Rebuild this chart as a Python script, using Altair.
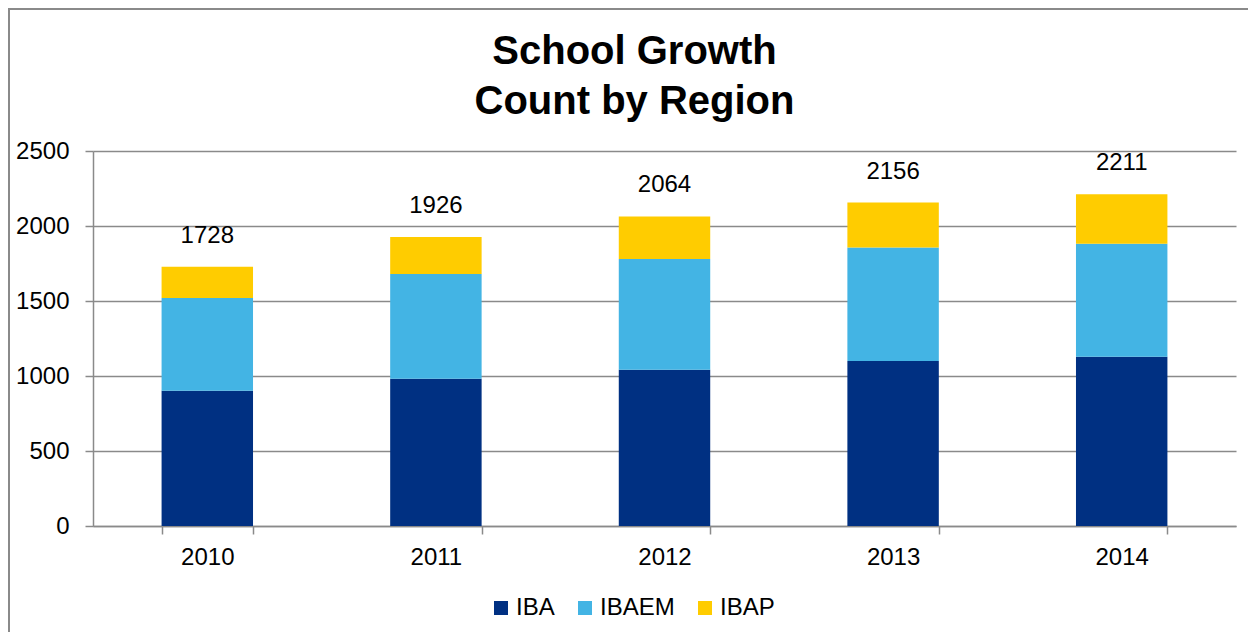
import altair as alt
import pandas as pd

years = ["2010", "2011", "2012", "2013", "2014"]
series = ["IBA", "IBAEM", "IBAP"]
iba = [902, 982, 1042, 1100, 1129]
ibaem = [618, 698, 738, 756, 753]
ibap = [208, 246, 284, 300, 329]
totals = [1728, 1926, 2064, 2156, 2211]
colors = ["#003082", "#43B4E4", "#FFCC00"]

rows = []
for i, y in enumerate(years):
    for k, (name, vals) in enumerate(zip(series, [iba, ibaem, ibap])):
        rows.append({"Year": y, "Region": name, "Count": vals[i], "order": k})
df = pd.DataFrame(rows)
tot = pd.DataFrame({"Year": years, "Total": totals})
frame_df = pd.DataFrame({"a": [0]})

FONT = "Liberation Sans"
x_enc = alt.X("Year:N", sort=years,
              scale=alt.Scale(paddingInner=0.6, paddingOuter=0.3),
              axis=alt.Axis(title=None, labelAngle=0, tickBand="extent",
                            labelFontSize=24, labelPadding=11, tickSize=8,
                            grid=False))

bars = alt.Chart(df).mark_bar().encode(
    x=x_enc,
    y=alt.Y("Count:Q", stack="zero",
            scale=alt.Scale(domain=[0, 2500], nice=False),
            axis=alt.Axis(title=None, values=[0, 500, 1000, 1500, 2000, 2500],
                          format="d",
                          labelFontSize=24, labelPadding=16, tickSize=8,
                          grid=True)),
    color=alt.Color("Region:N", sort=series,
                    scale=alt.Scale(domain=series, range=colors),
                    legend=alt.Legend(title=None, orient="none", direction="horizontal",
                                      legendX=396, legendY=445,
                                      symbolType="square", symbolSize=196,
                                      symbolStrokeWidth=0, labelFontSize=24,
                                      labelOffset=3, columnPadding=18, padding=0)),
    order=alt.Order("order:Q", sort="ascending"),
)

labels = alt.Chart(tot).mark_text(fontSize=24, baseline="alphabetic", dy=-24,
                                  color="black", font=FONT).encode(
    x=alt.X("Year:N", sort=years),
    y=alt.Y("Total:Q"),
    text=alt.Text("Total:Q"),
)

frame = alt.Chart(frame_df).mark_rect(fill=None, stroke="#8a8a8a", strokeWidth=2,
                                      clip=False).encode(
    x=alt.value(-84), x2=alt.value(1300),
    y=alt.value(-142), y2=alt.value(700),
)

chart = alt.layer(bars, labels, frame).properties(
    width=1143, height=375,
    autosize=alt.AutoSizeParams(type="none"),
    padding={"left": 85, "top": 143, "right": 12, "bottom": 106},
    title=alt.TitleParams(text=["School Growth", "Count by Region"], fontSize=40,
                          fontWeight="bold", font=FONT, anchor="middle",
                          lineHeight=50, dx=-30, offset=-114, color="black"),
).configure(font=FONT).configure_view(stroke=None).configure_axis(
    domainColor="#8a8a8a", domainWidth=1.5, tickColor="#8a8a8a", tickWidth=1.5,
    gridColor="#8a8a8a", gridWidth=1.5, labelColor="black", labelFont=FONT,
).configure_legend(labelFont=FONT, labelColor="black")

chart.save("out.html", embed_options={"renderer": "svg", "actions": False})
